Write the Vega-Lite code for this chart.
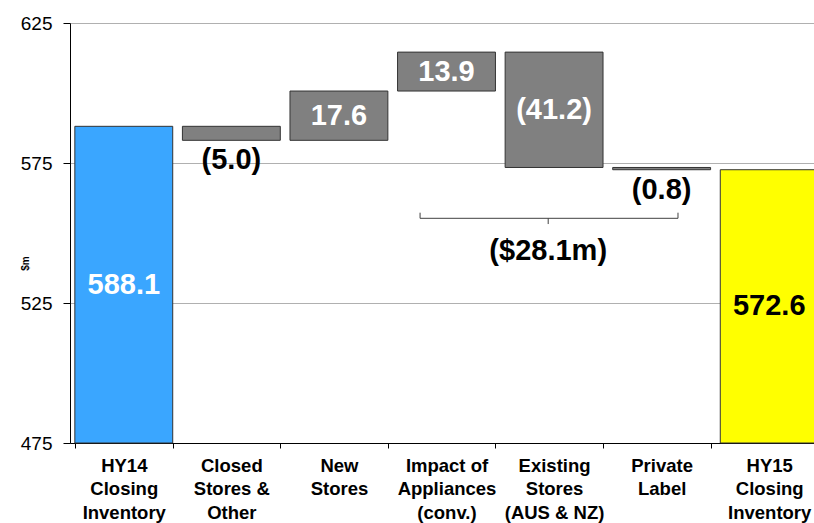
{
  "$schema": "https://vega.github.io/schema/vega-lite/v6.json",
  "autosize": {"type": "none"},
  "width": 744,
  "height": 420,
  "padding": {"left": 70, "top": 23, "right": 0, "bottom": 80},
  "config": {
    "view": {"stroke": null},
    "font": "Liberation Sans",
    "axisX": {
      "labelAngle": 0,
      "tickBand": "extent",
      "tickSize": 5,
      "tickColor": "#000000",
      "domainColor": "#000000",
      "labelFontWeight": "bold",
      "labelFontSize": 18.5,
      "labelLineHeight": 23.5,
      "labelPadding": 8,
      "labelColor": "#000000",
      "labelOverlap": false,
      "labelBound": false,
      "labelLimit": 0,
      "grid": false
    },
    "axisY": {
      "grid": true,
      "gridColor": "#B0B0B0",
      "domainColor": "#000000",
      "tickColor": "#000000",
      "tickSize": 7,
      "labelFontSize": 19,
      "labelPadding": 11,
      "labelColor": "#000000",
      "titleFontSize": 10,
      "titleFontWeight": "bold",
      "titleColor": "#000000"
    }
  },
  "layer": [
    {
      "data": {"values": [
        {"cat": "HY14|Closing|Inventory", "start": 475, "end": 588.1, "label": "588.1", "kind": "open"},
        {"cat": "Closed|Stores &|Other", "start": 588.1, "end": 583.1, "label": "(5.0)", "kind": "change"},
        {"cat": "New|Stores", "start": 583.1, "end": 600.7, "label": "17.6", "kind": "change"},
        {"cat": "Impact of|Appliances|(conv.)", "start": 600.7, "end": 614.6, "label": "13.9", "kind": "change"},
        {"cat": "Existing|Stores|(AUS & NZ)", "start": 614.6, "end": 573.4, "label": "(41.2)", "kind": "change"},
        {"cat": "Private|Label", "start": 573.4, "end": 572.6, "label": "(0.8)", "kind": "change"},
        {"cat": "HY15|Closing|Inventory", "start": 475, "end": 572.6, "label": "572.6", "kind": "close"}
      ]},
      "layer": [
        {
          "mark": {"type": "bar", "stroke": "#333333", "strokeWidth": 1},
          "encoding": {
            "x": {
              "field": "cat", "type": "nominal", "sort": null, "title": null,
              "scale": {
                "domain": ["HY14|Closing|Inventory", "Closed|Stores &|Other", "New|Stores", "Impact of|Appliances|(conv.)", "Existing|Stores|(AUS & NZ)", "Private|Label", "HY15|Closing|Inventory"],
                "range": [0, 753], "paddingInner": 0.09, "paddingOuter": 0.045
              },
              "axis": {"title": null, "labelExpr": "split(datum.label, '|')"}
            },
            "y": {
              "field": "start", "type": "quantitative",
              "scale": {"domain": [475, 625], "nice": false, "zero": false},
              "axis": {"title": "$m", "values": [475, 525, 575, 625], "titleX": -40, "titleY": 240, "titleAngle": 270}
            },
            "y2": {"field": "end"},
            "color": {
              "field": "kind", "type": "nominal",
              "scale": {"domain": ["open", "change", "close"], "range": ["#3AA6FF", "#808080", "#FFFF00"]},
              "legend": null
            }
          }
        },
        {
          "transform": [
            {"filter": "abs(datum.end - datum.start) >= 10"},
            {"calculate": "(datum.start + datum.end) / 2", "as": "mid"}
          ],
          "mark": {"type": "text", "fontWeight": "bold", "fontSize": 29, "baseline": "middle"},
          "encoding": {
            "x": {"field": "cat", "type": "nominal"},
            "y": {"field": "mid", "type": "quantitative"},
            "text": {"field": "label"},
            "color": {"condition": {"test": "datum.kind == 'close'", "value": "#000000"}, "value": "#FFFFFF"}
          }
        },
        {
          "transform": [
            {"filter": "abs(datum.end - datum.start) < 10"},
            {"calculate": "min(datum.start, datum.end)", "as": "lo"}
          ],
          "mark": {"type": "text", "fontWeight": "bold", "fontSize": 29, "baseline": "middle", "dy": 20, "color": "#000000"},
          "encoding": {
            "x": {"field": "cat", "type": "nominal"},
            "y": {"field": "lo", "type": "quantitative"},
            "text": {"field": "label"}
          }
        }
      ]
    },
    {
      "data": {"values": [{"a": "Impact of|Appliances|(conv.)", "b": "Private|Label", "c": "Existing|Stores|(AUS & NZ)", "y": 555.25, "yTop": 557.25, "yBot": 553.2, "yText": 543.4, "text": "($28.1m)"}]},
      "layer": [
        {
          "mark": {"type": "rule", "color": "#404040", "strokeWidth": 1},
          "encoding": {
            "x": {"field": "a", "type": "nominal", "bandPosition": 0.23},
            "x2": {"field": "b", "bandPosition": 0.667},
            "y": {"field": "y", "type": "quantitative"}
          }
        },
        {
          "mark": {"type": "rule", "color": "#404040", "strokeWidth": 1},
          "encoding": {
            "x": {"field": "a", "type": "nominal", "bandPosition": 0.23},
            "y": {"field": "y", "type": "quantitative"},
            "y2": {"field": "yTop"}
          }
        },
        {
          "mark": {"type": "rule", "color": "#404040", "strokeWidth": 1},
          "encoding": {
            "x": {"field": "b", "type": "nominal", "bandPosition": 0.667},
            "y": {"field": "y", "type": "quantitative"},
            "y2": {"field": "yTop"}
          }
        },
        {
          "mark": {"type": "rule", "color": "#404040", "strokeWidth": 1},
          "encoding": {
            "x": {"field": "c", "type": "nominal", "bandPosition": 0.44},
            "y": {"field": "y", "type": "quantitative"},
            "y2": {"field": "yBot"}
          }
        },
        {
          "mark": {"type": "text", "fontWeight": "bold", "fontSize": 29, "baseline": "middle", "color": "#000000"},
          "encoding": {
            "x": {"field": "c", "type": "nominal", "bandPosition": 0.44},
            "y": {"field": "yText", "type": "quantitative"},
            "text": {"field": "text"}
          }
        }
      ]
    }
  ]
}
